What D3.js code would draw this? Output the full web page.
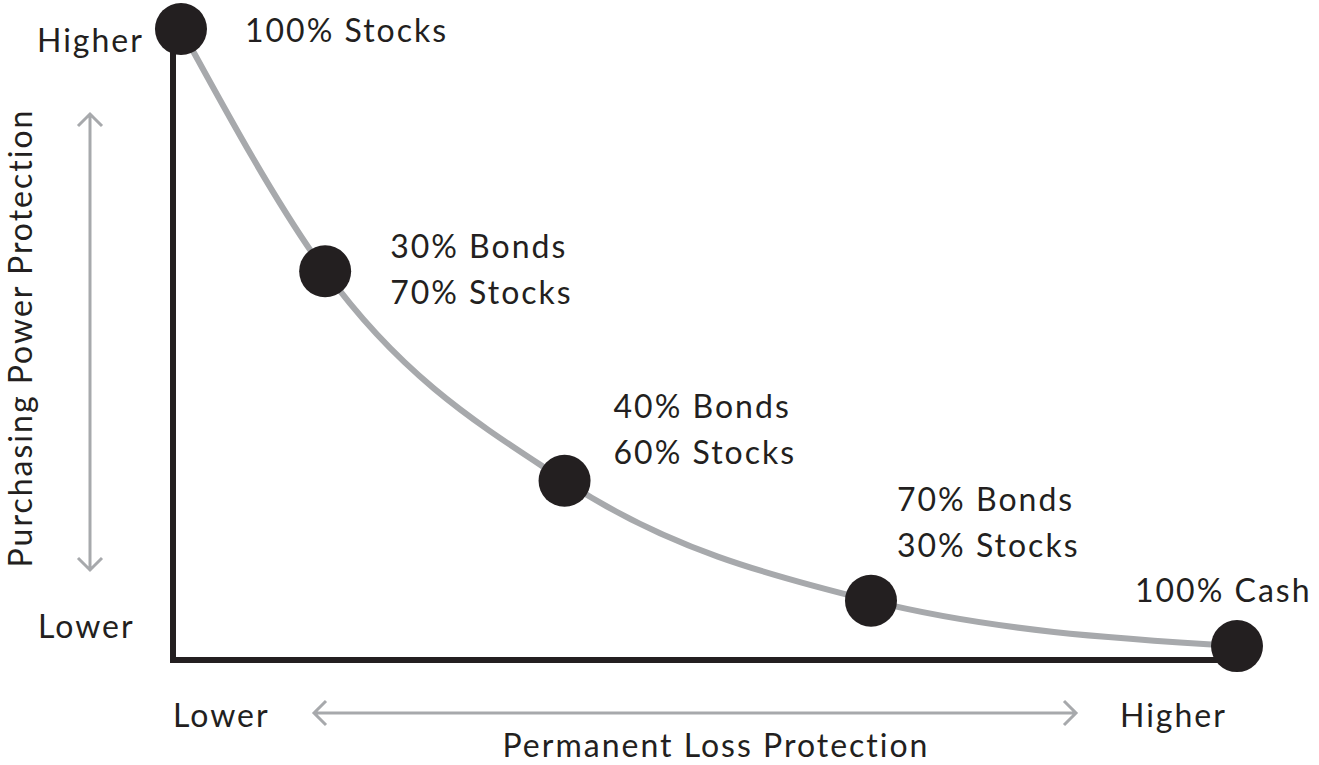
<!DOCTYPE html>
<html lang="en">
  <head>
    <meta charset="UTF-8" />
    <title>Allocation curve</title>
    <style>
      body { margin: 0; background: #fff; }
      text { font-family: 'Lato', sans-serif; fill: #231f20; letter-spacing: 2px; }
    </style>
  </head>
  <body>
    <script src="https://d3js.org/d3.v7.min.js"></script>
    <script>
      // permanent loss protection (x) and purchasing power protection (y), 0-100
      const lossProtection = [0.75, 14.3, 36.8, 65.6, 100];
      const powerProtection = [100, 61.6, 28.4, 9.4, 2.2];
      const labels = [
        ['100% Stocks'],
        ['30% Bonds', '70% Stocks'],
        ['40% Bonds', '60% Stocks'],
        ['70% Bonds', '30% Stocks'],
        ['100% Cash'],
      ];

      function makeChart() {
        const width = 1319, height = 765;
        const dark = '#231f20', gray = '#a7a9ac';
        const svg = d3.select('body').append('svg')
          .attr('width', width).attr('height', height);

        const x = d3.scaleLinear().domain([0, 100]).range([173, 1237]);
        const y = d3.scaleLinear().domain([0, 100]).range([660, 29]);

        const data = lossProtection.map((v, i) => ({ x: v, y: powerProtection[i], label: labels[i] }));

        // axes
        svg.append('path')
          .attr('d', `M${x(0)},${y(100)}V${y(0)}H${x(100)}`)
          .attr('fill', 'none').attr('stroke', dark).attr('stroke-width', 6);

        // curve
        const line = d3.line().x(d => x(d.x)).y(d => y(d.y)).curve(d3.curveMonotoneX);
        svg.append('path').datum(data).attr('d', line)
          .attr('fill', 'none').attr('stroke', gray).attr('stroke-width', 6);

        svg.selectAll('circle').data(data).join('circle')
          .attr('cx', d => x(d.x)).attr('cy', d => y(d.y)).attr('r', 26)
          .attr('fill', dark);

        // point labels
        const offsets = [[64, 13], [65, -13], [49, -63], [26, -90], [-102, -44]];
        const lab = svg.append('g').attr('font-size', 32).selectAll('text').data(data).join('text')
          .attr('x', (d, i) => x(d.x) + offsets[i][0])
          .attr('y', (d, i) => y(d.y) + offsets[i][1]);
        lab.selectAll('tspan').data(d => d.label).join('tspan')
          .attr('x', function () { return this.parentNode.getAttribute('x'); })
          .attr('dy', (d, i) => i ? 46 : 0)
          .text(d => d);

        // axis words
        const words = [
          ['Higher', 37, 52], ['Lower', 38, 638],
          ['Lower', 173, 727], ['Higher', 1120, 727],
        ];
        svg.append('g').attr('font-size', 32).selectAll('text').data(words).join('text')
          .attr('x', d => d[1]).attr('y', d => d[2]).text(d => d[0]);

        svg.append('text').attr('font-size', 32).attr('text-anchor', 'middle')
          .attr('x', 716).attr('y', 757).text('Permanent Loss Protection');
        svg.append('text').attr('font-size', 32).attr('text-anchor', 'middle')
          .attr('transform', 'translate(32,338) rotate(-90)').text('Purchasing Power Protection');

        // double-headed arrows
        const arrow = svg.append('g').attr('fill', 'none').attr('stroke', gray)
          .attr('stroke-width', 3).attr('stroke-linejoin', 'miter');
        arrow.append('path').attr('d', 'M90,114V570M78,126L90,114L102,126M78,558L90,570L102,558');
        arrow.append('path').attr('d', 'M314,713H1076M326,701L314,713L326,725M1064,701L1076,713L1064,725');
      }
      makeChart();
    </script>
  </body>
</html>
